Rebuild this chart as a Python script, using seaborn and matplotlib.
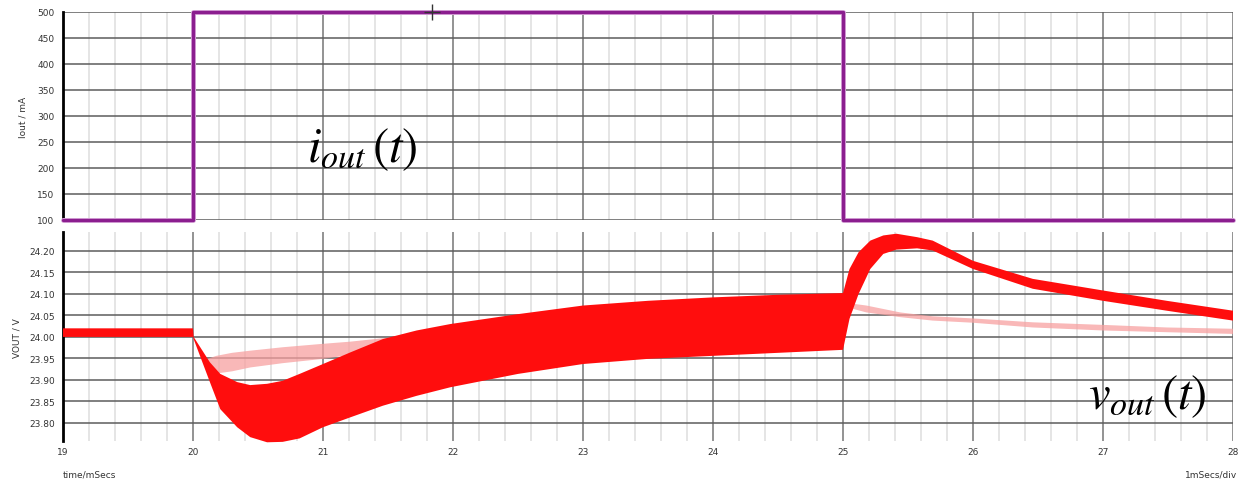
import matplotlib
matplotlib.use("Agg")
import matplotlib.pyplot as plt
import matplotlib.patheffects as pe
import numpy as np
import pandas as pd
import seaborn as sns

# load step (mA)
t_iout = [19.0, 20.0, 25.0, 28.0]
iout = [100, 500, 100, 100]

# output voltage ripple envelope (V)
t_vout = [19.0, 20.0, 20.005, 20.13, 20.21, 20.34, 20.44, 20.57, 20.69, 20.82,
          21.0, 21.21, 21.46, 21.72, 21.98, 22.5, 23.0, 23.5, 24.0, 24.5,
          25.0, 25.05, 25.12, 25.21, 25.31, 25.41, 25.57, 25.69, 26.0, 26.46,
          27.0, 27.49, 28.0]
vout_hi = [24.02, 24.02, 24.00, 23.941, 23.914, 23.895, 23.888, 23.891, 23.898, 23.914,
           23.937, 23.964, 23.995, 24.015, 24.030, 24.053, 24.073, 24.084, 24.092, 24.098,
           24.102, 24.158, 24.197, 24.224, 24.236, 24.240, 24.232, 24.224, 24.177, 24.135,
           24.108, 24.084, 24.061]
vout_lo = [24.00, 24.00, 23.995, 23.895, 23.832, 23.790, 23.767, 23.755, 23.756, 23.764,
           23.790, 23.813, 23.840, 23.863, 23.883, 23.914, 23.937, 23.949, 23.956, 23.963,
           23.970, 24.042, 24.100, 24.158, 24.193, 24.203, 24.206, 24.201, 24.158, 24.112,
           24.084, 24.061, 24.038]

# faint second trace (two visible pieces)
t_ghost1 = [20.09, 20.18, 20.30, 20.44, 20.69, 21.0, 21.21, 21.46, 21.6]
ghost1_hi = [23.947, 23.956, 23.963, 23.968, 23.976, 23.984, 23.989, 23.997, 24.0]
ghost1_lo = [23.943, 23.915, 23.920, 23.929, 23.939, 23.949, 23.958, 23.972, 23.99]
t_ghost2 = [25.05, 25.08, 25.18, 25.44, 25.69, 26.0, 26.46, 27.0, 27.49, 28.0]
ghost2_hi = [24.06, 24.077, 24.073, 24.057, 24.048, 24.043, 24.034, 24.028, 24.022, 24.019]
ghost2_lo = [24.05, 24.065, 24.057, 24.046, 24.038, 24.033, 24.022, 24.015, 24.011, 24.007]

sns.set_style("white")
plt.rcParams["font.family"] = ["DejaVu Sans"]
plt.rcParams["mathtext.fontset"] = "stix"

fig = plt.figure(figsize=(12.41, 4.85), dpi=100)
W, H = 1241.0, 485.0
x0, x1 = 63 / W, 1233 / W
ax_i = fig.add_axes([x0, 1 - 221 / H, x1 - x0, (221 - 13) / H])
ax_v = fig.add_axes([x0, 1 - 442 / H, x1 - x0, (442 - 233) / H])

major_c, minor_c, hgrid_c = "#8a8a8a", "#dedede", "#5c5c5c"
tick_c = "#333333"

def scope_grid(ax, yticks):
    for s in ["top", "right", "bottom"]:
        ax.spines[s].set_visible(False)
    ax.spines["left"].set_color("black")
    ax.spines["left"].set_linewidth(2.0)
    ax.set_xlim(19, 28)
    ax.set_xticks(np.arange(19, 29, 1))
    ax.set_xticks(np.arange(19, 28.01, 0.2), minor=True)
    ax.set_yticks(yticks)
    ax.grid(which="minor", axis="x", color=minor_c, lw=1.1, zorder=0)
    ax.grid(which="major", axis="x", color=major_c, lw=1.3, zorder=0)
    ax.grid(which="major", axis="y", color=hgrid_c, lw=1.1, zorder=0)
    ax.set_axisbelow(True)
    ax.tick_params(which="both", length=0, labelsize=6.5, colors=tick_c, pad=6)

# ---- top: output current
df_i = pd.DataFrame({"t": t_iout, "i": iout})
sns.lineplot(data=df_i, x="t", y="i", ax=ax_i, estimator=None, drawstyle="steps-post",
             color="#8b1e8f", lw=2.4, clip_on=False, zorder=5,
             path_effects=[pe.Stroke(linewidth=3.6, foreground="#dcb0de"), pe.Normal()])
scope_grid(ax_i, np.arange(100, 501, 50))
ax_i.set_ylim(100, 500)
ax_i.set_xlabel("")
ax_i.set_ylabel("")
ax_i.tick_params(axis="x", labelbottom=False)
ax_i.plot([21.84], [500], marker="+", ms=11, mew=1.0, color="#333333", clip_on=False, zorder=6)
ax_i.text(20.88, 238, r"$i_{out}\,(t)$", fontsize=35, color="black", ha="left", va="center")

# ---- bottom: output voltage
scope_grid(ax_v, np.round(np.arange(23.80, 24.201, 0.05), 2))
ax_v.set_ylim(23.758, 24.244)
ax_v.yaxis.set_major_formatter(matplotlib.ticker.FormatStrFormatter("%.2f"))
ax_v.tick_params(axis="x", pad=4)
for tg, lo, hi in [(t_ghost1, ghost1_lo, ghost1_hi), (t_ghost2, ghost2_lo, ghost2_hi)]:
    ax_v.fill_between(tg, lo, hi, facecolor="#f7a0a0", edgecolor="none", lw=0,
                      alpha=0.75, zorder=2)
ax_v.fill_between(t_vout, vout_lo, vout_hi, facecolor="#ff0d0d", edgecolor="none",
                  lw=0, zorder=3, clip_on=False)
ax_v.text(27.34, 23.866, r"$v_{out}\,(t)$", fontsize=35, color="black", ha="center", va="center")

fig.text(23 / W, 1 - 117 / H, "Iout / mA", rotation=90, ha="center", va="center",
         fontsize=6.5, color=tick_c)
fig.text(17 / W, 1 - 338 / H, "VOUT / V", rotation=90, ha="center", va="center",
         fontsize=6.5, color=tick_c)
fig.text(63 / W, 1 - 475 / H, "time/mSecs", ha="left", va="center", fontsize=6.5, color=tick_c)
fig.text(1237 / W, 1 - 475 / H, "1mSecs/div", ha="right", va="center", fontsize=6.5, color=tick_c)

fig.savefig("out.png", dpi=100)
